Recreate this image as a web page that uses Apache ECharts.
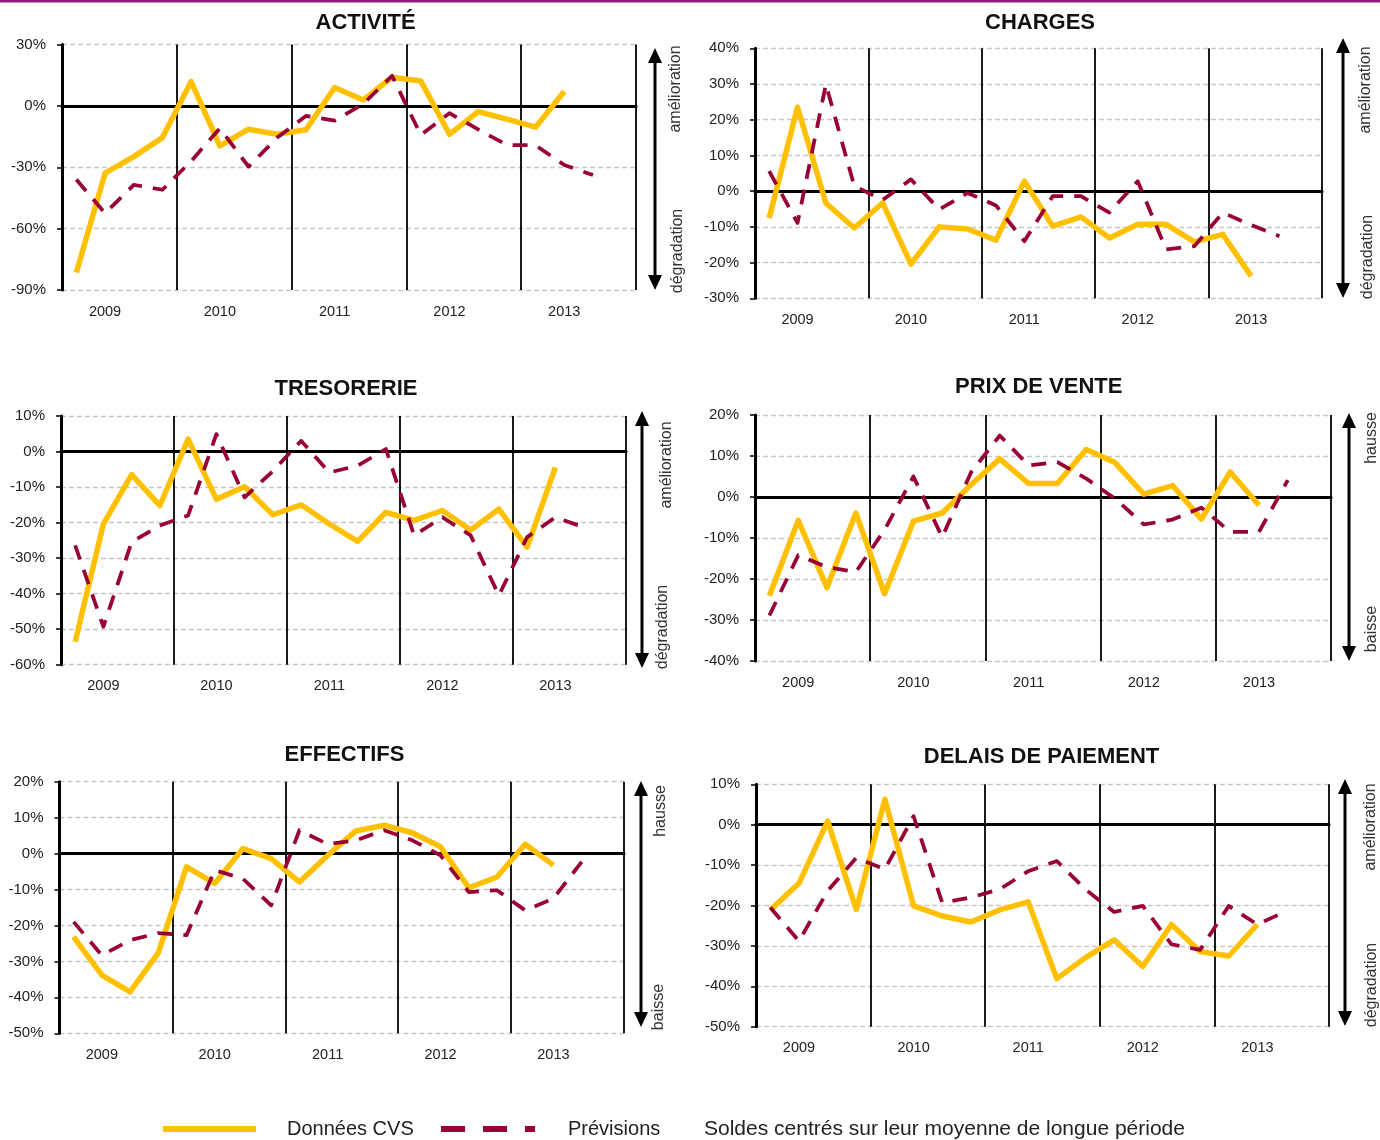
<!DOCTYPE html>
<html>
<head>
<meta charset="utf-8">
<script src="https://cdn.jsdelivr.net/npm/echarts@6/dist/echarts.min.js"></script>
<style>
html, body { margin: 0; padding: 0; background: #fff; }
#chart { width: 1380px; height: 1140px; }
</style>
</head>
<body>
<div id="chart"></div>
<script>
// ---------- DATA ----------
const quarters = [
  'T1 2009','T2 2009','T3 2009','T4 2009',
  'T1 2010','T2 2010','T3 2010','T4 2010',
  'T1 2011','T2 2011','T3 2011','T4 2011',
  'T1 2012','T2 2012','T3 2012','T4 2012',
  'T1 2013','T2 2013','T3 2013','T4 2013'
];
const yearLabels = ['2009', '2010', '2011', '2012', '2013'];

const activiteCvs  = [-81.5, -32.9, -24.8, -15.5, 11.9, -19.6, -11.4, -13.9, -11.7, 9.0, 2.9, 14.0, 12.2, -13.9, -2.8, -6.5, -10.4, 7.0];
const activitePrev = [-36, -52.5, -38.6, -41, -27, -11, -29.7, -15.5, -4.9, -7.2, 1.0, 14.7, -14.2, -3.6, -11.5, -19.1, -19.3, -28.9, -33.8];

const chargesCvs  = [-7.5, 23.5, -3.3, -10.3, -3.3, -20.4, -10, -10.6, -13.7, 2.8, -9.8, -7.2, -13.1, -9.3, -9.3, -14.2, -12.1, -23.8];
const chargesPrev = [5.6, -8.9, 29.9, 1.5, -2.5, 3.3, -5.1, -0.5, -4, -14, -1.4, -1.4, -6, 2.8, -16.3, -15.4, -6, -9.5, -12.6];

const tresorerieCvs  = [-53.6, -20.4, -6.5, -15.2, 3.5, -13.4, -9.9, -17.8, -15, -20.4, -25.3, -17.1, -19.4, -16.6, -22.1, -16.2, -26.9, -4.5];
const tresoreriePrev = [-26.4, -49.3, -25.5, -20.8, -18, 4.9, -12.9, -5.5, 3, -5.9, -4, 0.7, -23.6, -18.5, -23.6, -40.5, -24.1, -18.5, -21.3];

const prixCvs  = [-24.1, -5.7, -22.1, -3.9, -23.6, -5.9, -3.9, 3, 9.3, 3.3, 3.3, 11.6, 8.4, 0.7, 2.8, -5.4, 6.1, -2.0];
const prixPrev = [-28.9, -14.2, -17.1, -18.3, -8, 5, -9.8, 6, 15, 7.7, 8.5, 4.5, -0.4, -6.7, -5.5, -2.6, -8.5, -8.5, 4.1];

const effectifsCvs  = [-23.2, -33.8, -38.5, -27.6, -3.7, -8.3, 1.4, -1.4, -7.9, -0.5, 6.3, 7.9, 5.8, 1.9, -9.5, -6.5, 2.6, -3.2];
const effectifsPrev = [-19, -28.3, -24.1, -22.1, -22.7, -4.6, -7, -14.4, 6.5, 2.6, 3.7, 6.5, 3.7, -0.5, -10.7, -10.2, -15.8, -12.5, -2.3];

const delaisCvs  = [-21.1, -14.5, 0.9, -21, 6.3, -20.1, -22.6, -24.1, -21.1, -19.1, -38.1, -32.9, -28.5, -35.1, -24.7, -31.4, -32.5, -24.7];
const delaisPrev = [-20.5, -28.8, -16.4, -8.2, -11, 2.1, -19.3, -18, -16, -11.5, -9, -16, -21.6, -20.1, -29.6, -31, -20.1, -24.7, -21.4];

const seriesNames = ['Données CVS', 'Prévisions'];
const legendNote = 'Soldes centrés sur leur moyenne de longue période';

// ---------- LAYOUT ----------
const FONT = "'Liberation Sans', Arial, sans-serif";
const panels = [
  { title: 'ACTIVITÉ', cvs: activiteCvs, prev: activitePrev, yMin: -90, yMax: 30, yStep: 30,
    up: 'amélioration', down: 'dégradation',
    grid: { left: 62, top: 44.5, width: 574, height: 245.5 }, titleAt: [365.6, 23],
    arrow: { x: 655, y1: 48, y2: 290 }, upAt: [676, 89], downAt: [678, 251] },
  { title: 'CHARGES', cvs: chargesCvs, prev: chargesPrev, yMin: -30, yMax: 40, yStep: 10,
    up: 'amélioration', down: 'dégradation',
    grid: { left: 755, top: 48.3, width: 567, height: 250 }, titleAt: [1040, 22.7],
    arrow: { x: 1343, y1: 38, y2: 298 }, upAt: [1366, 90], downAt: [1368, 257] },
  { title: 'TRESORERIE', cvs: tresorerieCvs, prev: tresoreriePrev, yMin: -60, yMax: 10, yStep: 10,
    up: 'amélioration', down: 'dégradation',
    grid: { left: 61, top: 416, width: 565, height: 248.7 }, titleAt: [346, 389.3],
    arrow: { x: 642, y1: 411, y2: 668 }, upAt: [667, 465], downAt: [663, 627] },
  { title: 'PRIX DE VENTE', cvs: prixCvs, prev: prixPrev, yMin: -40, yMax: 20, yStep: 10,
    up: 'hausse', down: 'baisse',
    grid: { left: 755, top: 415, width: 576, height: 246 }, titleAt: [1038.7, 387.3],
    arrow: { x: 1349, y1: 413, y2: 661 }, upAt: [1372, 438], downAt: [1372, 629] },
  { title: 'EFFECTIFS', cvs: effectifsCvs, prev: effectifsPrev, yMin: -50, yMax: 20, yStep: 10,
    up: 'hausse', down: 'baisse',
    grid: { left: 59.5, top: 781.7, width: 564.5, height: 251.6 }, titleAt: [344.5, 755],
    arrow: { x: 641, y1: 781, y2: 1027 }, upAt: [661, 811], downAt: [659, 1007] },
  { title: 'DELAIS DE PAIEMENT', cvs: delaisCvs, prev: delaisPrev, yMin: -50, yMax: 10, yStep: 10,
    up: 'amélioration', down: 'dégradation',
    grid: { left: 756, top: 784.3, width: 573, height: 242.4 }, titleAt: [1041.5, 757.3],
    arrow: { x: 1345, y1: 779, y2: 1026 }, upAt: [1371, 827], downAt: [1372, 985] }
];

const COL_CVS = '#FFC000';
const COL_PREV = '#990033';

const grids = [], xAxes = [], yAxes = [], series = [], graphics = [];

graphics.push({ type: 'rect', shape: { x: 0, y: 0, width: 1380, height: 2.5 }, style: { fill: '#8B1A7A' }, silent: true });

panels.forEach((p, i) => {
  grids.push(Object.assign({ containLabel: false }, p.grid));
  xAxes.push({
    type: 'category', gridIndex: i, data: quarters, boundaryGap: true, position: 'bottom',
    axisLine: { show: false, onZero: false }, axisTick: { show: false }, splitLine: { show: false },
    axisLabel: {
      interval: 0, margin: 14, fontSize: 14.5, color: '#222', fontFamily: FONT,
      formatter: (v, idx) => (idx % 4 === 1 ? yearLabels[Math.floor(idx / 4)] : '')
    }
  });
  xAxes.push({
    type: 'value', gridIndex: i, min: 0, max: 20, interval: 4, position: 'top', z: 3,
    axisLine: { show: true, onZero: true, lineStyle: { color: '#000', width: 3 } },
    axisTick: { show: false }, axisLabel: { show: false },
    splitLine: { show: true, lineStyle: { color: '#000', width: 1.8 } }
  });
  yAxes.push({
    type: 'value', gridIndex: i, min: p.yMin, max: p.yMax, interval: p.yStep, z: 1,
    axisLine: { show: true, onZero: false, lineStyle: { color: '#000', width: 3 } },
    axisTick: { show: true, length: 5, lineStyle: { color: '#000', width: 1.5 } },
    axisLabel: { formatter: '{value}%', fontSize: 15, color: '#222', margin: 16, fontFamily: FONT },
    splitLine: { show: true, lineStyle: { color: '#c8c8c8', width: 1.3, type: [5, 3] } }
  });
  series.push({
    name: seriesNames[0], type: 'line', xAxisIndex: 2 * i, yAxisIndex: i, data: p.cvs,
    symbol: 'none', z: 5, silent: true,
    lineStyle: { color: COL_CVS, width: 5.5, join: 'round' }, itemStyle: { color: COL_CVS }
  });
  series.push({
    name: seriesNames[1], type: 'line', xAxisIndex: 2 * i, yAxisIndex: i, data: p.prev,
    symbol: 'none', z: 6, silent: true,
    lineStyle: { color: COL_PREV, width: 3.75, type: [15, 11], join: 'round' }, itemStyle: { color: COL_PREV }
  });

  // title
  graphics.push({
    type: 'text', x: p.titleAt[0], y: p.titleAt[1], silent: true,
    style: { text: p.title, font: 'bold 22px ' + FONT, fill: '#111', align: 'center', verticalAlign: 'middle' }
  });
  // double arrow
  const a = p.arrow;
  graphics.push({
    type: 'line', silent: true,
    shape: { x1: a.x, y1: a.y1 + 12, x2: a.x, y2: a.y2 - 12 },
    style: { stroke: '#000', lineWidth: 3 }
  });
  graphics.push({
    type: 'polygon', silent: true,
    shape: { points: [[a.x, a.y1], [a.x - 7, a.y1 + 15], [a.x + 7, a.y1 + 15]] },
    style: { fill: '#000' }
  });
  graphics.push({
    type: 'polygon', silent: true,
    shape: { points: [[a.x, a.y2], [a.x - 7, a.y2 - 15], [a.x + 7, a.y2 - 15]] },
    style: { fill: '#000' }
  });
  graphics.push({
    type: 'text', x: p.upAt[0], y: p.upAt[1], rotation: Math.PI / 2, silent: true,
    style: { text: p.up, font: '16px ' + FONT, fill: '#333', align: 'center', verticalAlign: 'middle' }
  });
  graphics.push({
    type: 'text', x: p.downAt[0], y: p.downAt[1], rotation: Math.PI / 2, silent: true,
    style: { text: p.down, font: '16px ' + FONT, fill: '#333', align: 'center', verticalAlign: 'middle' }
  });
});

// legend
graphics.push({ type: 'line', silent: true, shape: { x1: 163, y1: 1129, x2: 256, y2: 1129 }, style: { stroke: COL_CVS, lineWidth: 6 } });
graphics.push({ type: 'text', x: 287, y: 1129, silent: true, style: { text: seriesNames[0], font: '20px ' + FONT, fill: '#222', align: 'left', verticalAlign: 'middle' } });
graphics.push({ type: 'line', silent: true, shape: { x1: 441, y1: 1129, x2: 535, y2: 1129 }, style: { stroke: COL_PREV, lineWidth: 6, lineDash: [24, 18] } });
graphics.push({ type: 'text', x: 568, y: 1129, silent: true, style: { text: seriesNames[1], font: '20px ' + FONT, fill: '#222', align: 'left', verticalAlign: 'middle' } });
graphics.push({ type: 'text', x: 704, y: 1129, silent: true, style: { text: legendNote, font: '21px ' + FONT, fill: '#222', align: 'left', verticalAlign: 'middle' } });

const chart = echarts.init(document.getElementById('chart'), null, { renderer: 'canvas' });
chart.setOption({
  animation: false,
  backgroundColor: '#fff',
  textStyle: { fontFamily: FONT },
  grid: grids,
  xAxis: xAxes,
  yAxis: yAxes,
  series: series,
  graphic: graphics
});
</script>
</body>
</html>
